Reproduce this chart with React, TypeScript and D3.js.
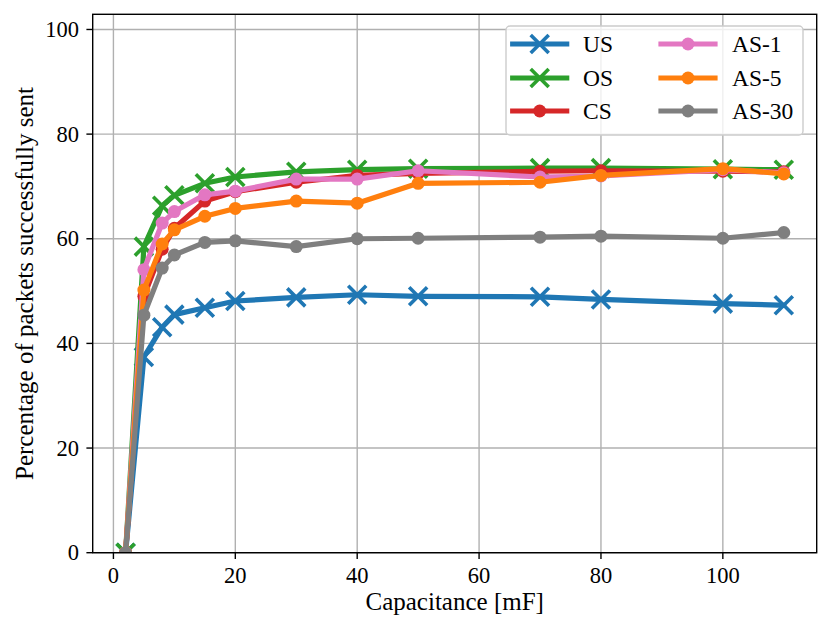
import React from "react";
import * as d3 from "d3";

const capacitance = [2, 5, 8, 10, 15, 20, 30, 40, 50, 70, 80, 100, 110];
const usValues = [0, 37.4, 43.1, 45.5, 46.8, 48.1, 48.8, 49.3, 49.0, 48.9, 48.4, 47.6, 47.3];
const osValues = [0, 58.5, 66.3, 68.3, 70.6, 71.8, 72.8, 73.2, 73.4, 73.5, 73.5, 73.3, 73.2];
const csValues = [0, 49.0, 58.0, 62.0, 67.2, 69.0, 70.8, 72.1, 72.5, 72.9, 73.0, 72.9, 72.8];
const as1Values = [0, 54.1, 63.0, 65.2, 68.4, 69.1, 71.4, 71.4, 73.0, 71.8, 72.0, 73.2, 72.6];
const as5Values = [0, 50.2, 59.0, 61.7, 64.3, 65.8, 67.2, 66.8, 70.6, 70.8, 72.1, 73.4, 72.4];
const as30Values = [0, 45.4, 54.4, 56.9, 59.3, 59.6, 58.5, 60.0, 60.1, 60.3, 60.5, 60.1, 61.2];

const xTicks = [0, 20, 40, 60, 80, 100];
const yTicks = [0, 20, 40, 60, 80, 100];

const seriesNames = ["US", "OS", "CS", "AS-1", "AS-5", "AS-30"];
const seriesColors = ["#1f77b4", "#2ca02c", "#d62728", "#e377c2", "#ff7f0e", "#7f7f7f"];
const seriesMarkers = ["x", "x", "o", "o", "o", "o"];
const seriesData = [usValues, osValues, csValues, as1Values, as5Values, as30Values];

const W = 831;
const H = 635;
const M = { left: 92.7, right: 816.7, top: 14.3, bottom: 552.7 };
const FONT = "Liberation Serif, DejaVu Serif, serif";

function Marker({ type, color, cx, cy }: { type: string; color: string; cx: number; cy: number }) {
  if (type === "x") {
    const s = 9;
    return (
      <path
        d={`M${cx - s},${cy - s}L${cx + s},${cy + s}M${cx - s},${cy + s}L${cx + s},${cy - s}`}
        stroke={color}
        strokeWidth={3.6}
        fill="none"
      />
    );
  }
  return <circle cx={cx} cy={cy} r={6.5} fill={color} />;
}

const tickStyle: React.CSSProperties = { fontFamily: FONT, fontSize: 22.5 };
const labelStyle: React.CSSProperties = { fontFamily: FONT, fontSize: 25 };
const legendStyle: React.CSSProperties = { fontFamily: FONT, fontSize: 23.5 };

export default function App() {
  const x = d3.scaleLinear().domain([-3.4, 115.4]).range([M.left, M.right]);
  const y = d3.scaleLinear().domain([0, 102.9]).range([M.bottom, M.top]);
  const line = d3
    .line<number>()
    .x((_, i) => x(capacitance[i]))
    .y((d) => y(d));

  const legendCols = [
    { lineX0: 512.7, lineX1: 566.7, textX: 583 },
    { lineX0: 661, lineX1: 715, textX: 732 },
  ];
  const legendRows = [44, 78, 111];

  return (
    <svg width={W} height={H} style={{ display: "block", position: "absolute", left: 0, top: 0, fontFamily: FONT }}>
      <rect x={0} y={0} width={W} height={H} fill="#fff" />
      <defs>
        <clipPath id="plotclip">
          <rect x={M.left} y={M.top} width={M.right - M.left} height={M.bottom - M.top} />
        </clipPath>
      </defs>
      {xTicks.map((t) => (
        <line key={"gx" + t} x1={x(t)} x2={x(t)} y1={M.top} y2={M.bottom} stroke="#b0b0b0" strokeWidth={1.4} />
      ))}
      {yTicks.map((t) => (
        <line key={"gy" + t} x1={M.left} x2={M.right} y1={y(t)} y2={y(t)} stroke="#b0b0b0" strokeWidth={1.4} />
      ))}
      <g clipPath="url(#plotclip)">
        {seriesData.map((vals, si) => (
          <g key={seriesNames[si]}>
            <path d={line(vals) || ""} fill="none" stroke={seriesColors[si]} strokeWidth={5.2} strokeLinejoin="round" strokeLinecap="square" />
            {vals.map((v, i) => (
              <Marker key={i} type={seriesMarkers[si]} color={seriesColors[si]} cx={x(capacitance[i])} cy={y(v)} />
            ))}
          </g>
        ))}
      </g>
      <rect x={M.left} y={M.top} width={M.right - M.left} height={M.bottom - M.top} fill="none" stroke="#000" strokeWidth={1.4} />
      {xTicks.map((t) => (
        <g key={"xt" + t}>
          <line x1={x(t)} x2={x(t)} y1={M.bottom} y2={M.bottom + 6.3} stroke="#000" strokeWidth={1.4} />
          <text x={x(t)} y={583} textAnchor="middle" style={tickStyle} fill="#000">
            {t}
          </text>
        </g>
      ))}
      {yTicks.map((t) => (
        <g key={"yt" + t}>
          <line x1={M.left - 6.3} x2={M.left} y1={y(t)} y2={y(t)} stroke="#000" strokeWidth={1.4} />
          <text x={79} y={y(t) + 7.5} textAnchor="end" style={tickStyle} fill="#000">
            {t}
          </text>
        </g>
      ))}
      <text x={(M.left + M.right) / 2} y={610} textAnchor="middle" style={labelStyle} fill="#000">
        Capacitance [mF]
      </text>
      <text
        transform={`translate(33,${(M.top + M.bottom) / 2}) rotate(-90)`}
        textAnchor="middle"
        style={labelStyle}
        fill="#000"
      >
        Percentage of packets successfully sent
      </text>
      <rect x={506} y={26} width={297} height={109} rx={4} ry={4} fill="#fff" fillOpacity={0.8} stroke="#cccccc" strokeWidth={1.4} />
      {seriesNames.map((name, si) => {
        const col = legendCols[Math.floor(si / 3)];
        const cy = legendRows[si % 3];
        return (
          <g key={"lg" + name}>
            <line x1={col.lineX0} x2={col.lineX1} y1={cy} y2={cy} stroke={seriesColors[si]} strokeWidth={5.2} strokeLinecap="square" />
            <Marker type={seriesMarkers[si]} color={seriesColors[si]} cx={(col.lineX0 + col.lineX1) / 2} cy={cy} />
            <text x={col.textX} y={cy + 8} style={legendStyle} fill="#000">
              {name}
            </text>
          </g>
        );
      })}
    </svg>
  );
}
